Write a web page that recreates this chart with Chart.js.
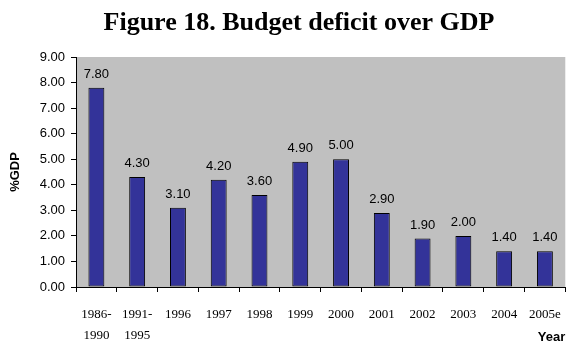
<!DOCTYPE html>
<html lang="en">
<head>
    <meta charset="UTF-8">
    <title>Budget deficit over GDP</title>
    <script src="https://cdn.jsdelivr.net/npm/chart.js"></script>
    <style>
        html, body {
            margin: 0;
            padding: 0;
            background-color: #ffffff;
        }
        #wrap {
            width: 573px;
            height: 345px;
        }
    </style>
</head>
<body>
    <div id="wrap">
        <canvas id="deficitChart" width="573" height="345"></canvas>
    </div>

    <script>
        const chartTitle = 'Figure 18. Budget deficit over GDP';
        const years = [
            ['1986-', '1990'], ['1991-', '1995'], '1996', '1997', '1998', '1999',
            '2000', '2001', '2002', '2003', '2004', '2005e'
        ];
        const deficit = [7.80, 4.30, 3.10, 4.20, 3.60, 4.90, 5.00, 2.90, 1.90, 2.00, 1.40, 1.40];
        const yTicks = [0, 1, 2, 3, 4, 5, 6, 7, 8, 9];

        // grey plot area behind the bars
        const plotBackground = {
            id: 'plotBackground',
            beforeDraw(chart) {
                const { ctx, chartArea } = chart;
                ctx.save();
                ctx.fillStyle = '#c0c0c0';
                ctx.fillRect(chartArea.left, chartArea.top, chartArea.right - chartArea.left, chartArea.bottom - chartArea.top);
                ctx.restore();
            }
        };

        // heading, centred a little right of the canvas middle
        const headline = {
            id: 'headline',
            afterDraw(chart) {
                const { ctx } = chart;
                ctx.save();
                ctx.font = 'bold 26px "Liberation Serif", "Times New Roman", serif';
                ctx.fillStyle = '#000000';
                ctx.textAlign = 'center';
                ctx.textBaseline = 'middle';
                ctx.fillText(chartTitle, 299, 23);
                ctx.restore();
            }
        };

        // value written above every bar
        const barValues = {
            id: 'barValues',
            afterDatasetsDraw(chart) {
                const { ctx } = chart;
                const meta = chart.getDatasetMeta(0);
                ctx.save();
                ctx.font = '13px "Liberation Sans", Arial, sans-serif';
                ctx.fillStyle = '#000000';
                ctx.textAlign = 'center';
                ctx.textBaseline = 'bottom';
                meta.data.forEach((bar, i) => {
                    ctx.fillText(deficit[i].toFixed(2), bar.x, bar.y - 7);
                });
                ctx.restore();
            }
        };

        new Chart(document.getElementById('deficitChart'), {
            type: 'bar',
            data: {
                labels: years,
                datasets: [{
                    data: deficit,
                    backgroundColor: '#333399',
                    borderColor: '#000000',
                    borderWidth: 1,
                    borderSkipped: false,
                    categoryPercentage: 1,
                    barPercentage: 0.39
                }]
            },
            options: {
                responsive: false,
                animation: false,
                layout: {
                    padding: { left: 8, right: 5, top: 57, bottom: 0 }
                },
                scales: {
                    x: {
                        offset: true,
                        afterFit(axis) {
                            axis.height = 58;
                        },
                        border: { color: '#000000', width: 1 },
                        grid: {
                            drawOnChartArea: false,
                            drawTicks: true,
                            tickLength: 5,
                            color: '#000000',
                            offset: true
                        },
                        ticks: {
                            color: '#000000',
                            padding: 12,
                            maxRotation: 0,
                            autoSkip: false,
                            font: { family: '"Liberation Serif", "Times New Roman", serif', size: 13, lineHeight: 1.6 }
                        },
                        title: {
                            display: true,
                            text: 'Year',
                            align: 'end',
                            color: '#000000',
                            padding: 0,
                            font: { family: '"Liberation Sans", Arial, sans-serif', size: 13, weight: 'bold' }
                        }
                    },
                    y: {
                        min: 0,
                        max: 9,
                        afterBuildTicks(axis) {
                            axis.ticks = yTicks.map(v => ({ value: v }));
                        },
                        afterFit(axis) {
                            axis.width = 68;
                        },
                        border: { color: '#000000', width: 1 },
                        grid: {
                            drawOnChartArea: false,
                            drawTicks: true,
                            tickLength: 5,
                            color: '#000000'
                        },
                        ticks: {
                            color: '#000000',
                            padding: 6,
                            font: { family: '"Liberation Sans", Arial, sans-serif', size: 13 },
                            callback: v => v.toFixed(2)
                        },
                        title: {
                            display: true,
                            text: '%GDP',
                            color: '#000000',
                            padding: 0,
                            font: { family: '"Liberation Sans", Arial, sans-serif', size: 13, weight: 'bold' }
                        }
                    }
                },
                plugins: {
                    legend: { display: false },
                    tooltip: { enabled: false },
                    title: { display: false }
                }
            },
            plugins: [plotBackground, barValues, headline]
        });
    </script>
</body>
</html>
